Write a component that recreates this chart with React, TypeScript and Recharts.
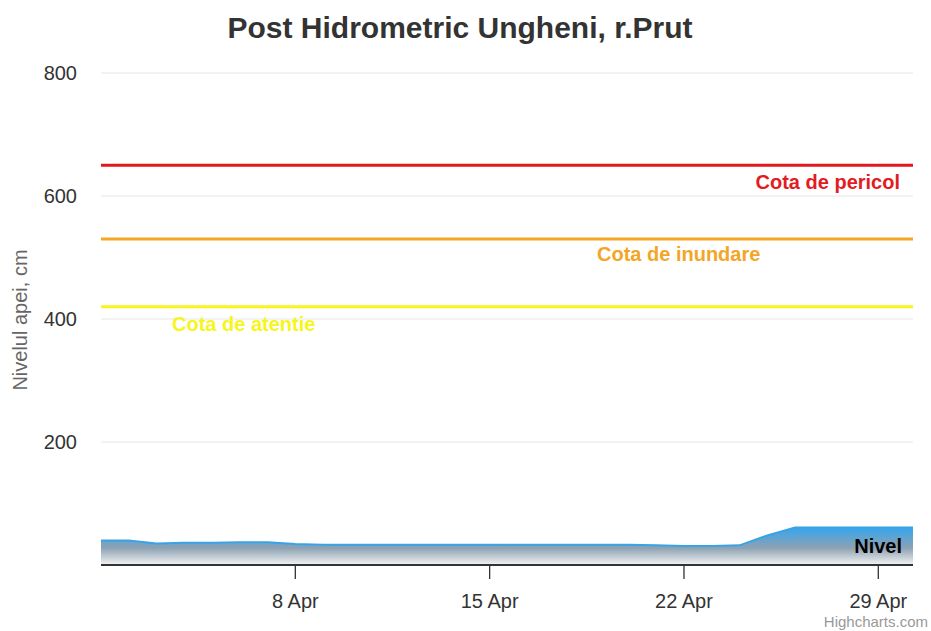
import {
  Area,
  CartesianGrid,
  ComposedChart,
  ReferenceLine,
  XAxis,
  YAxis,
} from "recharts";

// observation times, as day of April (last reading 30 Apr, early morning)
const days = [
  1, 2, 3, 4, 5, 6, 7, 8, 9, 10, 11, 12, 13, 14, 15, 16, 17, 18, 19, 20, 21,
  22, 23, 24, 25, 26, 27, 28, 29, 30.25,
];
const levels = [
  40, 40, 35, 36, 36, 37, 37, 34, 33, 33, 33, 33, 33, 33, 33, 33, 33, 33, 33,
  33, 32, 31, 31, 32, 48, 61, 61, 61, 61, 61,
];
const xTicks = [8, 15, 22, 29];
const yTicks = [0, 200, 400, 600, 800];

const thresholds = [
  { name: "Cota de pericol", value: 650, color: "#e3171d", label: "#e31b23" },
  { name: "Cota de inundare", value: 530, color: "#f5a623", label: "#f3a626" },
  { name: "Cota de atentie", value: 420, color: "#f8f41c", label: "#f6f51d" },
];

const data = days.map((d, i) => ({ day: d, nivel: levels[i] }));

const FONT = '"Liberation Sans", Arial, Helvetica, sans-serif';

// where each plot-line label sits, relative to its line
const labelPos: Record<string, { x: number; anchor: "start" | "end"; dy: number }> = {
  "Cota de pericol": { x: 900, anchor: "end", dy: 24 },
  "Cota de inundare": { x: 597, anchor: "start", dy: 22 },
  "Cota de atentie": { x: 172, anchor: "start", dy: 24 },
};

function LineLabel(props: any) {
  const { viewBox, text, fill } = props;
  const p = labelPos[text];
  return (
    <text
      x={p.x}
      y={viewBox.y + p.dy}
      textAnchor={p.anchor}
      fill={fill}
      fontSize={20}
      fontWeight="bold"
      fontFamily={FONT}
    >
      {text}
    </text>
  );
}

export default function App() {
  return (
    <div
      style={{
        position: "absolute",
        left: 0,
        top: 0,
        width: 931,
        height: 631,
        background: "#fff",
        fontFamily: FONT,
      }}
    >
      <ComposedChart
        width={931}
        height={631}
        data={data}
        margin={{ top: 73, right: 18, left: 0, bottom: 6 }}
      >
        <defs>
          <linearGradient id="g-nivel" x1="0" y1="0" x2="0" y2="1">
            <stop offset="0%" stopColor="#34a5ee" />
            <stop offset="55%" stopColor="#8ea2b3" />
            <stop offset="100%" stopColor="#f4f4f4" />
          </linearGradient>
        </defs>
        <CartesianGrid stroke="#e6e6e6" vertical={false} />
        <XAxis
          dataKey="day"
          type="number"
          domain={[1, 30.25]}
          ticks={xTicks}
          tickFormatter={(v) => `${v} Apr`}
          height={60}
          stroke="#333"
          axisLine={{ stroke: "#333", strokeWidth: 2 }}
          tickLine={{ stroke: "#333", strokeWidth: 1.3 }}
          tickSize={14}
          tickMargin={15}
          tick={{ fill: "#333", fontSize: 20, fontFamily: FONT }}
        />
        <YAxis
          type="number"
          domain={[0, 800]}
          ticks={yTicks}
          tickFormatter={(v) => (v === 0 ? "" : String(v))}
          width={101}
          axisLine={false}
          tickLine={false}
          tickSize={6}
          tickMargin={18}
          tick={{ fill: "#333", fontSize: 20, fontFamily: FONT }}
        />
        {thresholds.map((t) => (
          <ReferenceLine
            key={t.name}
            y={t.value}
            stroke={t.color}
            strokeWidth={3}
            label={<LineLabel text={t.name} fill={t.label} />}
          />
        ))}
        <Area
          type="linear"
          dataKey="nivel"
          stroke="#3aa3e6"
          strokeWidth={2}
          fill="url(#g-nivel)"
          fillOpacity={1}
          dot={false}
          activeDot={false}
          isAnimationActive={false}
        />
      </ComposedChart>
      <svg
        width={931}
        height={631}
        style={{ position: "absolute", left: 0, top: 0, pointerEvents: "none" }}
      >
        <text
          x={460}
          y={38}
          textAnchor="middle"
          fontSize={30}
          fontWeight="bold"
          fill="#333"
          fontFamily={FONT}
        >
          Post Hidrometric Ungheni, r.Prut
        </text>
        <text
          x={27}
          y={320}
          textAnchor="middle"
          transform="rotate(-90 27 320)"
          fontSize={20}
          fill="#666"
          fontFamily={FONT}
        >
          Nivelul apei, cm
        </text>
        <text
          x={902}
          y={553}
          textAnchor="end"
          fontSize={20}
          fontWeight="bold"
          fill="#000"
          fontFamily={FONT}
        >
          Nivel
        </text>
        <text
          x={928}
          y={627}
          textAnchor="end"
          fontSize={15}
          fill="#999"
          fontFamily={FONT}
        >
          Highcharts.com
        </text>
      </svg>
    </div>
  );
}
